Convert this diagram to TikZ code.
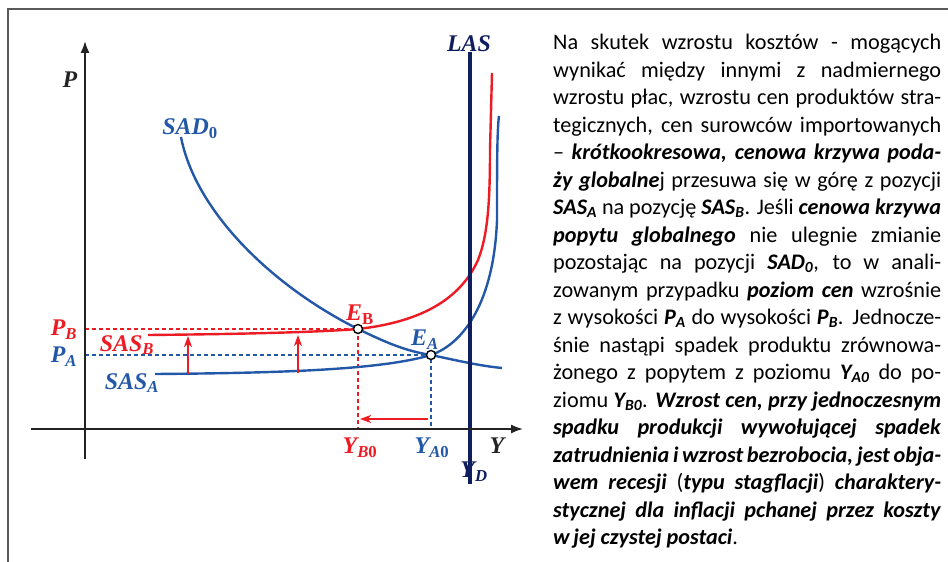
\documentclass[tikz,border=0pt]{standalone}
\usepackage{fontspec}
\setmainfont{Carlito}
\newfontfamily\diagfont{Liberation Serif}
\usepackage{tikz}
\usetikzlibrary{arrows.meta}

\definecolor{sasblue}{RGB}{35,87,168}
\definecolor{sasred}{RGB}{237,28,36}
\definecolor{lasnavy}{RGB}{16,30,96}
\definecolor{axisgray}{RGB}{35,35,35}
\newcommand{\bi}[1]{\textbf{\textit{#1}}}

\begin{document}
\begin{tikzpicture}[
  x=1bp, y=-1bp,
  lbl/.style={font=\diagfont\bfseries\itshape\fontsize{24}{26}\selectfont, inner sep=0pt},
  curve/.style={line width=2.4bp},
  guide/.style={line width=1.2bp, dash pattern=on 4bp off 3bp},
  axis/.style={axisgray, line width=1.8bp, -{Latex[length=12bp,width=9bp]}},
  risearrow/.style={sasred, line width=1.6bp, -{Stealth[length=11bp,width=8bp,inset=3bp]}},
  eq/.style={circle, draw=black, fill=white, line width=1.4bp,
    minimum size=9bp, inner sep=0pt}
]
  \useasboundingbox (0,0) rectangle (948,562);
  \draw[black!65, line width=1.5bp] (8,562) -- (8,9) -- (948,9);

  % equilibrium points and axis feet
  \coordinate (EB) at (358,329);
  \coordinate (EA) at (431,355);
  \coordinate (PB) at (85,329);
  \coordinate (PA) at (85,355);
  \coordinate (YB) at (358,429);
  \coordinate (YA) at (431,429);

  % guide lines
  \draw[guide, sasred] (PB) -- (EB) -- (YB);
  \draw[guide, sasblue] (PA) -- (EA) -- (YA);

  % curves
  \draw[curve, sasblue] (181,137) .. controls (195,210) and (270,285) .. (EB)
    .. controls (385,342) and (405,351) .. (EA)
    .. controls (455,360) and (480,366) .. (502,368);
  \draw[curve, sasblue] (155,374) .. controls (280,373) and (380,370) .. (EA)
    .. controls (465,343) and (494,300) .. (497,220)
    .. controls (497,170) and (497,130) .. (499,116);
  \draw[curve, sasred] (148,335) .. controls (250,334) and (320,332) .. (EB)
    .. controls (420,322) and (460,300) .. (478,260)
    .. controls (488,235) and (490,200) .. (490,150) -- (492,73);
  \draw[lasnavy, line width=4bp] (470,52) -- (470,484);

  % shifts
  \draw[risearrow] (188,374) -- (188,336);
  \draw[risearrow] (298,373) -- (298,335);
  \draw[risearrow] (428,419) -- (360,419);

  % axes
  \draw[axis] (31,429) -- (523,429);
  \draw[axis] (85,459) -- (85,41);

  \node[eq] at (EB) {};
  \node[eq] at (EA) {};

  % labels
  \node[lbl, axisgray] (labelP) at (70,80) {P};
  \node[lbl, axisgray] (labelY) at (497,446) {Y};
  \node[lbl, lasnavy] (labelLAS) at (469,44) {LAS};
  \node[lbl, lasnavy] (labelYD) at (474,472) {Y\textsubscript{D}};
  \node[lbl, sasblue] (labelSAD) at (190,129) {SAD\textsubscript{\upshape 0}};
  \node[lbl, sasred] (labelPB) at (64,330) {P\textsubscript{B}};
  \node[lbl, sasblue] (labelPA) at (64,357) {P\textsubscript{A}};
  \node[lbl, sasred] (labelSASB) at (127,345) {SAS\textsubscript{B}};
  \node[lbl, sasblue] (labelSASA) at (132,383) {SAS\textsubscript{A}};
  \node[lbl, sasred] (labelEB) at (360,315) {E\textsubscript{\upshape B}};
  \node[lbl, sasblue] (labelEA) at (425,340) {E\textsubscript{A}};
  \node[lbl, sasred] (labelYB) at (360,448) {Y\textsubscript{B\upshape 0}};
  \node[lbl, sasblue] (labelYA) at (432,448) {Y\textsubscript{A\upshape 0}};

  % explanation
  \node[anchor=north west, inner sep=0pt, text width=388bp, align=justify,
    font=\fontsize{22.3}{27.6}\selectfont] (note) at (553,34) {%
    \hyphenpenalty=10000\exhyphenpenalty=10000\tolerance=10000
    Na skutek wzrostu kosztów - mogących\linebreak
    wynikać między innymi z nadmiernego\linebreak
    wzrostu płac, wzrostu cen produktów stra-\linebreak
    tegicznych, cen surowców importowanych\linebreak
    – \bi{krótkookresowa, cenowa krzywa poda-}\linebreak
    \bi{ży globalne}j przesuwa się w górę z pozycji\linebreak
    \bi{SAS\textsubscript{A}} na pozycję \bi{SAS\textsubscript{B}}. Jeśli \bi{cenowa krzywa}\linebreak
    \bi{popytu globalnego} nie ulegnie zmianie\linebreak
    pozostając na pozycji \bi{SAD\textsubscript{0}}, to w~anali-\linebreak
    zowanym przypadku \bi{poziom cen} wzrośnie\linebreak
    z wysokości \bi{P\textsubscript{A}} do wysokości \bi{P\textsubscript{B}}. Jednocze-\linebreak
    śnie nastąpi spadek produktu zrównowa-\linebreak
    żonego z popytem z poziomu \bi{Y\textsubscript{A0}} do po-\linebreak
    ziomu \bi{Y\textsubscript{B0}}. \bi{Wzrost cen, przy jednoczesnym}\linebreak
    \bi{spadku produkcji wywołującej spadek}\linebreak
    \bi{zatrudnienia i wzrost bezrobocia, jest obja-}\linebreak
    \bi{wem recesji} (\bi{typu stagflacji}) \bi{charaktery-}\linebreak
    \bi{stycznej dla inflacji pchanej przez koszty}\linebreak
    \bi{w\,jej czystej postaci}.};
\end{tikzpicture}
\end{document}
